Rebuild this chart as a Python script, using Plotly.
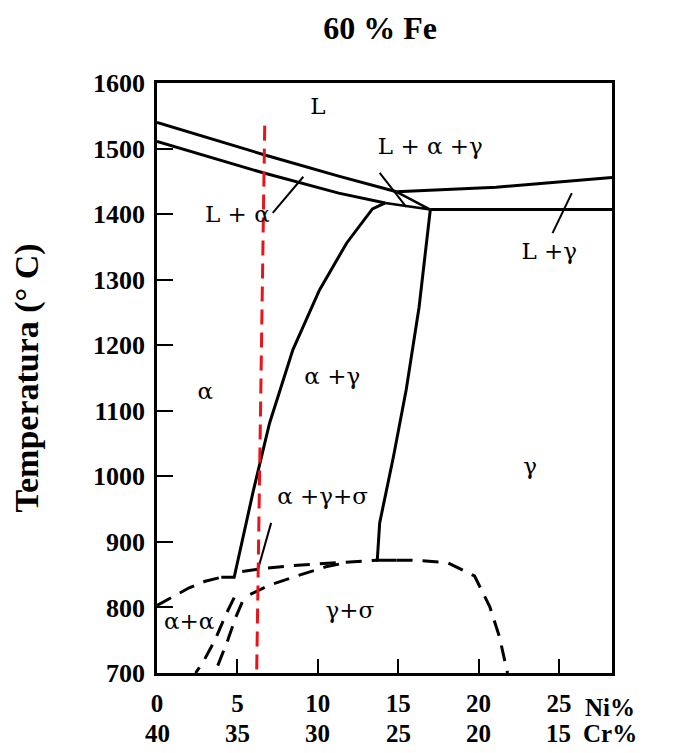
import plotly.graph_objects as go

# ---- data (Ni %, temperature °C) ----
alpha_liquidus_ni = [0, 6.6, 11.3, 14.9]
alpha_liquidus_t = [1540, 1491, 1458, 1434]
alpha_solidus_ni = [0, 6.6, 11.3, 14.2]
alpha_solidus_t = [1511, 1463, 1432, 1417]
gamma_liquidus_ni = [14.9, 21.1, 28.3]
gamma_liquidus_t = [1434, 1441, 1456]
gamma_solidus_ni = [17.0, 28.3]
gamma_solidus_t = [1407, 1407]
triangle_ni = [14.2, 17.0, 14.9]
triangle_t = [1417, 1407, 1434]
ag_left_ni = [4.0, 4.8, 6.0, 7.0, 8.45, 10.1, 11.8, 13.4, 14.2]
ag_left_t = [846, 846, 979, 1081, 1193, 1284, 1356, 1408, 1417]
ag_right_ni = [17.0, 16.3, 15.5, 14.7, 13.85, 13.7, 14.9]
ag_right_t = [1407, 1258, 1132, 1029, 929, 872, 872]

sigma_left_ni = [0, 1.0, 2.0, 3.0, 4.0]
sigma_left_t = [803, 816, 830, 840, 846]
sigma_upper_ni = [5.3, 6.5, 8.5, 10.5, 12.5, 13.7]
sigma_upper_t = [855, 859, 864, 867, 871, 872]
sigma_right_ni = [14.9, 16.1, 18.1, 19.75, 20.7, 21.3, 21.8]
sigma_right_t = [872, 872, 868, 848, 801, 755, 700]
sigma_lower_ni = [5.8, 7.0, 8.7, 10.5, 11.5]
sigma_lower_t = [820, 834, 848, 862, 867]
sigma_a_ni = [4.8, 4.3, 3.6, 2.9, 2.4]
sigma_a_t = [815, 790, 750, 718, 700]
sigma_b_ni = [5.3, 4.9, 4.4, 3.9, 3.6]
sigma_b_t = [808, 785, 750, 720, 700]

red_ni = [6.7, 6.2]
red_t = [1535, 700]

pointer_la_ni = [7.2, 9.1]
pointer_la_t = [1402, 1457]
pointer_lag_ni = [13.85, 15.5]
pointer_lag_t = [1463, 1411]
pointer_lg_ni = [24.6, 25.8]
pointer_lg_t = [1371, 1432]
pointer_ags_ni = [7.1, 6.3]
pointer_ags_t = [929, 860]

labels = ["L", "L + α +γ", "L + α", "L +γ", "α", "α +γ", "γ", "α +γ+σ", "γ+σ", "α+α"]
label_ni = [10.0, 17.0, 5.0, 24.4, 3.0, 10.9, 23.2, 10.3, 12.0, 2.0]
label_t = [1562, 1501, 1396, 1341, 1127, 1150, 1013, 967, 793, 776]

ni_ticks = [0, 5, 10, 15, 20, 25]
cr_ticks = [40, 35, 30, 25, 20, 15]
t_ticks = [700, 800, 900, 1000, 1100, 1200, 1300, 1400, 1500, 1600]

SERIF = "Liberation Serif"
fig = go.Figure()

def solid(x, y, w=3):
    fig.add_trace(go.Scatter(x=x, y=y, mode="lines", line=dict(color="black", width=w),
                             hoverinfo="skip", showlegend=False))

def dashed(x, y):
    fig.add_trace(go.Scatter(x=x, y=y, mode="lines",
                             line=dict(color="black", width=3, dash="16px,10px"),
                             hoverinfo="skip", showlegend=False))

solid(alpha_liquidus_ni, alpha_liquidus_t)
solid(alpha_solidus_ni, alpha_solidus_t)
solid(gamma_liquidus_ni, gamma_liquidus_t)
solid(gamma_solidus_ni, gamma_solidus_t)
solid(triangle_ni, triangle_t, 2.5)
solid(ag_left_ni, ag_left_t)
solid(ag_right_ni, ag_right_t)
for px, py in [(pointer_la_ni, pointer_la_t), (pointer_lag_ni, pointer_lag_t),
               (pointer_lg_ni, pointer_lg_t), (pointer_ags_ni, pointer_ags_t)]:
    solid(px, py, 2)

dashed(sigma_left_ni, sigma_left_t)
dashed(sigma_upper_ni, sigma_upper_t)
dashed(sigma_right_ni, sigma_right_t)
dashed(sigma_lower_ni, sigma_lower_t)
dashed(sigma_a_ni, sigma_a_t)
dashed(sigma_b_ni, sigma_b_t)

fig.add_trace(go.Scatter(x=red_ni, y=red_t, mode="lines",
                         line=dict(color="#e8141c", width=3, dash="15px,8px"),
                         hoverinfo="skip", showlegend=False))

fig.add_trace(go.Scatter(x=label_ni, y=label_t, mode="text", text=labels,
                         textfont=dict(family="DejaVu Serif", size=23, color="black"),
                         hoverinfo="skip", showlegend=False))

# page body has an 8px margin, so the figure is sized to fit the window
fig.update_layout(
    width=668, height=745,
    margin=dict(l=149, r=64, t=75, b=80),
    paper_bgcolor="white", plot_bgcolor="white",
    title=dict(text="<b>60 % Fe</b>", x=0.557, xanchor="center", y=0.973, yanchor="middle",
               font=dict(family=SERIF, size=32, color="black")),
    xaxis=dict(range=[0, 28.3], showgrid=False, zeroline=False,
               showline=True, linecolor="black", linewidth=2.5, mirror=True,
               ticks="inside", ticklen=14, tickwidth=2, tickcolor="black",
               tickvals=ni_ticks, ticktext=[f"<b>{a}</b>" for a in ni_ticks],
               tickfont=dict(family=SERIF, size=25, color="black"),
               ticklabelstandoff=6),
    yaxis=dict(range=[700, 1600], showgrid=False, zeroline=False,
               showline=True, linecolor="black", linewidth=2.5, mirror=True,
               ticks="inside", ticklen=16, tickwidth=2, tickcolor="black",
               tickvals=t_ticks, ticktext=[f"<b>{v}</b>" for v in t_ticks],
               tickfont=dict(family=SERIF, size=26, color="black"),
               ticklabelstandoff=4,
               title=dict(text="<b>Temperatura (° C)</b>", standoff=48,
                          font=dict(family=SERIF, size=34, color="black"))),
)

# second row of composition labels (Cr %), placed at the same Ni tick positions
for xv, cr in zip(ni_ticks, cr_ticks):
    fig.add_annotation(x=xv, y=-0.1017, xref="x", yref="paper", text=f"<b>{cr}</b>",
                       showarrow=False, xanchor="center", yanchor="middle",
                       font=dict(family=SERIF, size=25, color="black"))

fig.add_annotation(x=0.996, y=-0.0593, xref="paper", yref="paper", text="<b>Ni%</b>",
                   showarrow=False, xanchor="center", yanchor="middle",
                   font=dict(family=SERIF, size=25, color="black"))
fig.add_annotation(x=0.996, y=-0.1017, xref="paper", yref="paper", text="<b>Cr%</b>",
                   showarrow=False, xanchor="center", yanchor="middle",
                   font=dict(family=SERIF, size=25, color="black"))

fig.write_html("out.html")
